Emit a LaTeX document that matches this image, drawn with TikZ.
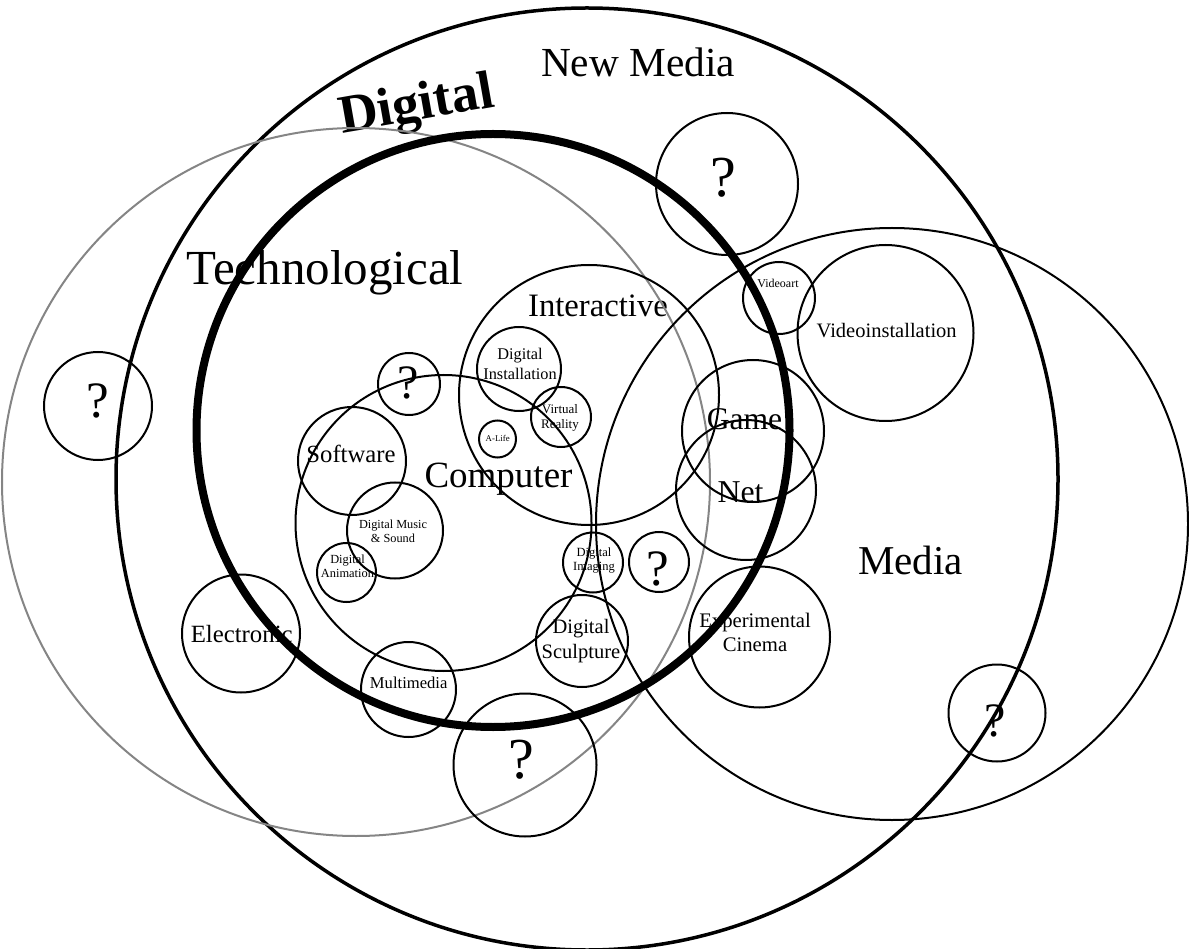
\documentclass[tikz,border=0pt]{standalone}
\usepackage{fontspec}
\setmainfont{Liberation Serif}
\usetikzlibrary{backgrounds}
\definecolor{cgray}{HTML}{858585}
\tikzset{
  every picture/.style={x=1pt, y=-1pt},
  ring/.style={circle, draw=black, line width=2pt, minimum size=#1, inner sep=0pt},
  txt/.style 2 args={font=\fontsize{#1}{#2}\selectfont, align=center, inner sep=0pt},
  word/.style={font=\fontsize{#1}{#1}\selectfont, inner sep=0pt, anchor=base},
}

\begin{document}
\begin{tikzpicture}[
    bigset/.style={ring=#1, line width=3.5pt},
    techset/.style={ring=#1, draw=cgray, line width=2pt},
    digiset/.style={ring=#1, line width=8pt},
  ]
  \useasboundingbox (0,0) rectangle (1189,949);

  % ---- the large sets
  \node[bigset=942pt]  (nm)  at (587,479)   {};
  \node[techset=708pt] (tec) at (356,482)   {};
  \node[digiset=593pt] (dig) at (493,430.5) {};
  \node[ring=592pt]    (med) at (892,524)   {};
  \node[ring=296pt]    (cmp) at (443.5,523) {};
  \node[ring=260pt]    (itr) at (589,395)   {};

  % ---- inside computer / interactive
  \node[ring=84pt]  (dinst) at (519,369)     {};
  \node[ring=60pt]  (vr)    at (561,417)     {};
  \node[ring=37pt]  (alife) at (497.5,439)   {};
  \node[ring=108pt] (soft)  at (352,461)     {};
  \node[ring=96pt]  (dmus)  at (395,530.5)   {};
  \node[ring=59pt]  (dani)  at (346.5,572.5) {};
  \node[ring=60pt]  (dimg)  at (593,562.5)   {};
  \node[ring=92pt]  (dsc)   at (582,641)     {};
  \node[ring=95pt]  (mm)    at (408.5,689.5) {};
  \node[ring=118pt] (elec)  at (241,633.5)   {};

  % ---- media side
  \node[ring=72pt]  (vart)  at (779,298)     {};
  \node[ring=176pt] (vinst) at (885.5,333)   {};
  \node[ring=142pt] (game)  at (753,431)     {};
  \node[ring=140pt] (net)   at (746,490)     {};
  \node[ring=141pt] (exp)   at (759.5,637)   {};

  % ---- unknown sets
  \node[ring=142pt] (q1) at (727,184)   {};
  \node[ring=108pt] (q2) at (98,406)    {};
  \node[ring=62pt]  (q3) at (409,384)   {};
  \node[ring=143pt] (q4) at (525,765)   {};
  \node[ring=60pt]  (q5) at (659,562)   {};
  \node[ring=97pt]  (q6) at (997,713)   {};

  \begin{scope}[on background layer]
    % set names
    \node[word=41.3] (nmlab)  at (638,77)  {New Media};
    \node[word=54, font=\fontsize{54}{54}\selectfont\bfseries, rotate=10] (diglab) at (419,120) {Digital};
    \node[word=49] (teclab) at (325,285) {Technological};
    \node[word=41] (medlab) at (910.5,574) {Media};
    \node[word=37] (cmplab) at (498.5,487) {Computer};
    \node[word=32.7] (itrlab) at (598,317) {Interactive};

    % small sets
    \node[txt={16.3}{20}] (dinstlab) at (520,363.5) {Digital\\Installation};
    \node[txt={13}{15}]   (vrlab)    at (560,417.5) {Virtual\\Reality};
    \node[word=8.8]       (alifelab) at (497.7,442) {A-Life};
    \node[word=24.7]      (softlab)  at (351,462)   {Software};
    \node[txt={12.3}{14}] (dmuslab)  at (393,530.8) {Digital Music\\\& Sound};
    \node[txt={12.4}{14}] (danilab)  at (347.5,566.7) {Digital\\Animation};
    \node[txt={12.5}{14}] (dimglab)  at (594,561)   {Digital\\Imaging};
    \node[txt={20.5}{25}] (dsclab)   at (581,640.7) {Digital\\Sculpture};
    \node[word=16.6]      (mmlab)    at (408.7,688) {Multimedia};
    \node[word=24.8]      (eleclab)  at (241.7,642) {Electronic};
    \node[word=12]        (vartlab)  at (778,288)   {Videoart};
    \node[word=20.5]      (vinstlab) at (886.7,338) {Videoinstallation};
    \node[word=31.6]      (gamelab)  at (744.5,430) {Game};
    \node[word=31.8]      (netlab)   at (740.5,502) {Net};
    \node[txt={20.7}{24}] (explab)   at (755,632)   {Experimental\\Cinema};

    % question marks
    \node[word=58] (q1lab) at (723,197)   {?};
    \node[word=51] (q2lab) at (98,418)    {?};
    \node[word=48] (q3lab) at (408,399)   {?};
    \node[word=58] (q4lab) at (521,778)   {?};
    \node[word=51] (q5lab) at (658,585)   {?};
    \node[word=48] (q6lab) at (995.5,736) {?};
  \end{scope}
\end{tikzpicture}
\end{document}
